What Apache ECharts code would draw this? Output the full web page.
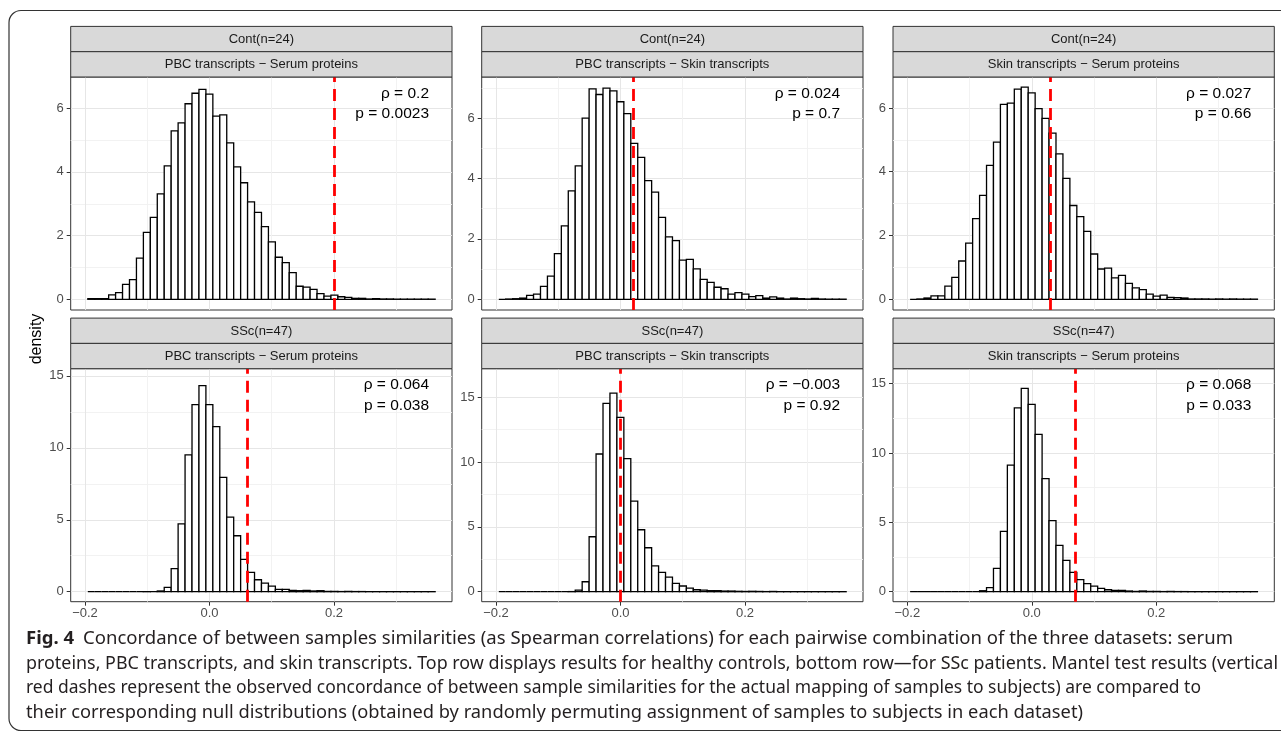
<!DOCTYPE html>
<html>
<head>
<meta charset="utf-8">
<script src="https://cdn.jsdelivr.net/npm/echarts@6/dist/echarts.min.js"></script>
<style>
html,body{margin:0;padding:0;background:#fff;}
#chart{width:1281px;height:738px;}
</style>
</head>
<body>
<div id="chart"></div>
<script>
// ---------------- data ----------------
const ROW_LABELS = ['Cont(n=24)', 'SSc(n=47)'];
const COL_LABELS = ['PBC transcripts \u2212 Serum proteins', 'PBC transcripts \u2212 Skin transcripts', 'Skin transcripts \u2212 Serum proteins'];
const RHO = [0.2, 0.024, 0.027, 0.064, -0.003, 0.068];
const RHO_TEXT = ['0.2', '0.024', '0.027', '0.064', '\u22120.003', '0.068'];
const P_TEXT = ['0.0023', '0.7', '0.66', '0.038', '0.92', '0.033'];
const X_TICKS = [-0.2, 0.0, 0.2];
const X_MINOR = [-0.1, 0.1, 0.3];
const Y_TICKS_TOP = [0, 2, 4, 6];
const Y_MINOR_TOP = [1, 3, 5, 7];
const Y_TICKS_BOTTOM = [0, 5, 10, 15];
const Y_MINOR_BOTTOM = [2.5, 7.5, 12.5, 17.5];
const BIN_START = -0.1955;
const BIN_WIDTH = 0.01116;

const dens1 = [0.02,0.02,0.02,0.14,0.21,0.47,0.62,1.29,2.10,2.57,3.31,4.19,5.29,5.54,6.14,6.47,6.59,6.44,5.75,5.79,4.91,4.16,3.66,3.06,2.73,2.28,1.80,1.32,1.15,0.84,0.41,0.38,0.31,0.18,0.10,0.13,0.08,0.06,0.03,0.03,0.01,0.02,0.01,0.01,0.005,0.005,0.005,0.005,0.005,0.005];
const dens2 = [0,0.01,0.02,0.04,0.13,0.17,0.43,0.77,1.51,2.43,3.59,4.42,6.00,6.97,6.78,6.99,6.90,6.54,6.15,5.16,4.70,3.93,3.55,2.71,2.07,1.94,1.30,1.32,1.01,0.66,0.56,0.40,0.35,0.17,0.22,0.17,0.09,0.12,0.04,0.08,0.04,0.01,0.04,0.02,0.01,0.03,0.01,0.005,0.005,0.005];
const dens3 = [0,0.01,0.04,0.11,0.11,0.41,0.69,1.20,1.76,2.53,3.26,4.20,4.93,6.11,6.15,6.59,6.65,6.47,5.98,5.67,5.21,4.56,3.79,2.94,2.59,2.13,1.42,0.95,0.98,0.67,0.75,0.50,0.36,0.30,0.16,0.10,0.13,0.06,0.05,0.04,0.01,0.01,0.01,0.005,0.01,0.005,0.01,0.005,0.005,0.005];
const dens4 = [0,0,0,0,0,0,0,0,0.005,0,0.05,0.30,1.60,4.72,9.51,13.00,14.33,13.00,11.48,7.94,5.19,3.89,2.25,1.34,0.83,0.60,0.39,0.16,0.16,0.09,0.07,0.09,0.05,0.07,0.02,0.02,0.01,0.02,0.01,0.01,0.005,0.005,0.005,0.005,0.005,0.005,0.005,0.005,0.005,0.005];
const dens5 = [0,0,0,0,0,0,0,0,0,0,0.01,0.13,0.77,4.24,10.62,14.52,15.32,13.44,10.26,6.99,4.78,3.39,2.00,1.49,1.13,0.64,0.44,0.28,0.15,0.13,0.08,0.08,0.05,0.05,0.03,0.02,0.03,0.02,0.01,0.02,0.005,0.005,0.005,0.005,0.005,0.005,0.005,0.005,0.005,0.005];
const dens6 = [0,0,0,0,0,0,0,0,0,0,0.07,0.29,1.68,4.35,9.13,13.25,14.66,13.51,11.35,8.15,5.12,3.34,2.26,1.39,0.87,0.58,0.41,0.24,0.14,0.10,0.10,0.05,0.02,0.05,0.02,0.02,0.01,0.02,0.01,0.01,0.005,0.005,0.005,0.005,0.005,0.005,0.005,0.005,0.005,0.005];
const DENSITIES = [dens1, dens2, dens3, dens4, dens5, dens6];

const CAPTION_BOLD = 'Fig. 4';
const CAPTION_LINES = [
  'Concordance of between samples similarities (as Spearman correlations) for each pairwise combination of the three datasets: serum',
  'proteins, PBC transcripts, and skin transcripts. Top row displays results for healthy controls, bottom row\u2014for SSc patients. Mantel test results (vertical',
  'red dashes represent the observed concordance of between sample similarities for the actual mapping of samples to subjects) are compared to',
  'their corresponding null distributions (obtained by randomly permuting assignment of samples to subjects in each dataset)'
];

// ---------------- layout ----------------
const X_MIN = -0.223, X_MAX = 0.3896;
const Y_RANGES = [[-0.336, 6.98], [-0.354, 7.36], [-0.336, 6.97], [-0.695, 15.5], [-0.77, 17.2], [-0.72, 16.08]];
const PANEL_LEFT = [70.7, 481.7, 893];
const PANEL_W = 381.3;
const PANEL_TOP = [77, 368.7];
const PANEL_H = 233;
const STRIP_H = 25.3;
const FONT = '"Liberation Sans", Arial, Helvetica, sans-serif';

const fmtX = v => {
  if (Math.abs(v) < 1e-9) return '0.0';
  return (v < 0 ? '\u2212' : '') + Math.abs(v).toFixed(1);
};

const grids = [], xAxes = [], yAxes = [], series = [], graphics = [];
const MAJOR_GRID = {color: '#e6e6e6', width: 1};
const MINOR_GRID = {color: '#f0f0f0', width: 0.9};

for (let i = 0; i < 6; i++) {
  const row = Math.floor(i / 3), col = i % 3;
  const left = PANEL_LEFT[col], top = PANEL_TOP[row];
  grids.push({left: left, top: top, width: PANEL_W, height: PANEL_H, show: true,
    borderColor: '#333333', borderWidth: 1, backgroundColor: '#ffffff', containLabel: false, outerBoundsMode: 'none'});
  const yt = row === 0 ? Y_TICKS_TOP : Y_TICKS_BOTTOM;
  const ym = row === 0 ? Y_MINOR_TOP : Y_MINOR_BOTTOM;
  // major x
  xAxes.push({gridIndex: i, type: 'value', position: 'bottom', min: X_MIN, max: X_MAX,
    axisLine: {show: false, onZero: false},
    axisTick: {show: row === 1, customValues: X_TICKS, length: 4, lineStyle: {color: '#333333', width: 1}},
    axisLabel: {show: row === 1, customValues: X_TICKS, formatter: fmtX, color: '#4d4d4d', fontSize: 13, fontFamily: FONT, margin: 5},
    splitLine: {show: true, lineStyle: MAJOR_GRID}});
  // minor x
  xAxes.push({gridIndex: i, type: 'value', position: 'bottom', min: X_MIN, max: X_MAX,
    axisLine: {show: false, onZero: false}, axisTick: {show: false, customValues: X_MINOR}, axisLabel: {show: false, customValues: X_MINOR},
    splitLine: {show: true, lineStyle: MINOR_GRID}});
  // major y
  yAxes.push({gridIndex: i, type: 'value', position: 'left', min: Y_RANGES[i][0], max: Y_RANGES[i][1],
    axisLine: {show: false, onZero: false},
    axisTick: {show: true, customValues: yt, length: 4, lineStyle: {color: '#333333', width: 1}},
    axisLabel: {show: true, customValues: yt, formatter: v => String(v), color: '#4d4d4d', fontSize: 13, fontFamily: FONT, margin: 7},
    splitLine: {show: true, lineStyle: MAJOR_GRID}});
  // minor y
  yAxes.push({gridIndex: i, type: 'value', position: 'left', min: Y_RANGES[i][0], max: Y_RANGES[i][1],
    axisLine: {show: false, onZero: false}, axisTick: {show: false, customValues: ym}, axisLabel: {show: false, customValues: ym},
    splitLine: {show: true, lineStyle: MINOR_GRID}});

  const data = DENSITIES[i].map((d, k) => [BIN_START + k * BIN_WIDTH, BIN_START + (k + 1) * BIN_WIDTH, d]);
  series.push({
    type: 'custom', xAxisIndex: 2 * i, yAxisIndex: 2 * i, data: data, silent: true, z: 3,
    encode: {x: [0, 1], y: 2},
    renderItem: function (params, api) {
      const p0 = api.coord([api.value(0), api.value(2)]);
      const p1 = api.coord([api.value(1), 0]);
      return {type: 'rect', shape: {x: p0[0], y: p0[1], width: p1[0] - p0[0], height: p1[1] - p0[1]},
        style: {fill: '#ffffff', stroke: '#000000', lineWidth: 1.3}};
    }
  });
  series.push({
    type: 'line', xAxisIndex: 2 * i, yAxisIndex: 2 * i, data: [], silent: true, z: 5,
    markLine: {silent: true, symbol: 'none', animation: false, label: {show: false},
      lineStyle: {color: '#ff0000', type: [12, 7], width: 2.8},
      data: [{xAxis: RHO[i]}]}
  });

  // annotation text
  graphics.push({type: 'text', z: 100, x: left + PANEL_W - 23, y: top + 16.5,
    style: {text: '\u03c1 = ' + RHO_TEXT[i], align: 'right', verticalAlign: 'middle', font: '15.5px ' + FONT, fill: '#000000'}});
  graphics.push({type: 'text', z: 100, x: left + PANEL_W - 23, y: top + 37,
    style: {text: 'p = ' + P_TEXT[i], align: 'right', verticalAlign: 'middle', font: '15.5px ' + FONT, fill: '#000000'}});

  // strips
  const s1 = top - 2 * STRIP_H, s2 = top - STRIP_H;
  [[s1, ROW_LABELS[row]], [s2, COL_LABELS[col]]].forEach(([sy, label]) => {
    graphics.push({type: 'rect', z: 50, shape: {x: left, y: sy, width: PANEL_W, height: STRIP_H},
      style: {fill: '#d9d9d9', stroke: '#333333', lineWidth: 1}});
    graphics.push({type: 'text', z: 51, x: left + PANEL_W / 2, y: sy + STRIP_H / 2 + 0.5,
      style: {text: label, align: 'center', verticalAlign: 'middle', font: '13px ' + FONT, fill: '#1a1a1a'}});
  });
}

// y axis title
graphics.push({type: 'text', z: 100, x: 37, y: 339, rotation: Math.PI / 2,
  style: {text: 'density', align: 'center', verticalAlign: 'middle', font: '16px ' + FONT, fill: '#000000'}});

// outer frame
graphics.push({type: 'rect', z: 1, shape: {x: 9, y: 10.5, width: 1300, height: 720, r: 12},
  style: {fill: 'none', stroke: '#333333', lineWidth: 1.2}});

// caption (scaled horizontally to mimic the condensed journal font)
const CAP_FONT = '"Noto Sans", "Open Sans", sans-serif';
const CAP_SIZE = 18.5;
const ctx = document.createElement('canvas').getContext('2d');
const measure = (t, f) => { ctx.font = f; return ctx.measureText(t).width; };
const CAP_LEFT = 26;
const CAP_RIGHT = [1233, 1278, 1201, 1083];
const CAP_Y = [639, 663.5, 688, 712.5];
const boldFont = 'bold ' + CAP_SIZE + 'px ' + CAP_FONT;
const regFont = CAP_SIZE + 'px ' + CAP_FONT;
CAPTION_LINES.forEach((line, li) => {
  const children = [];
  let offset = 0;
  let natural = measure(line, regFont);
  if (li === 0) {
    const bw = measure(CAPTION_BOLD, boldFont);
    const gapPx = bw + 9;
    natural += gapPx;
    children.push({type: 'text', x: 0, y: 0, style: {text: CAPTION_BOLD, font: boldFont, fill: '#231f20', align: 'left', verticalAlign: 'middle'}});
    offset = gapPx;
  }
  children.push({type: 'text', x: offset, y: 0, style: {text: line, font: regFont, fill: '#231f20', align: 'left', verticalAlign: 'middle'}});
  const sx = (CAP_RIGHT[li] - CAP_LEFT) / natural;
  graphics.push({type: 'group', z: 100, x: CAP_LEFT, y: CAP_Y[li], scaleX: sx, scaleY: 1, children: children});
});

const chart = echarts.init(document.getElementById('chart'), null, {renderer: 'canvas', width: 1281, height: 738});
chart.setOption({
  animation: false,
  backgroundColor: '#ffffff',
  grid: grids,
  xAxis: xAxes,
  yAxis: yAxes,
  series: series,
  graphic: {elements: graphics}
});
</script>
</body>
</html>
